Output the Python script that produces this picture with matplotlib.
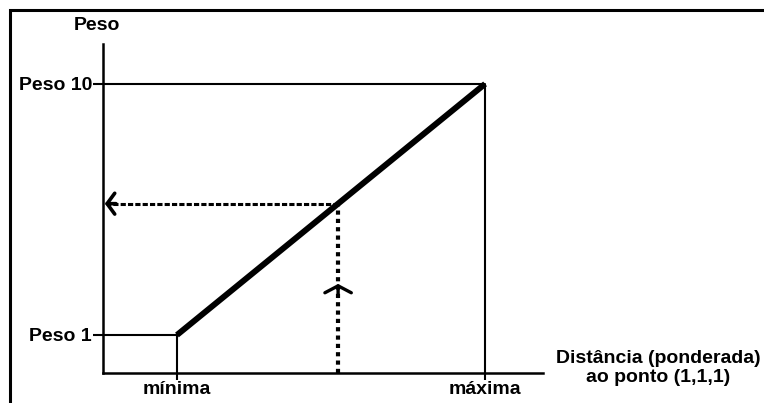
import matplotlib
matplotlib.use("Agg")
import matplotlib.pyplot as plt
from matplotlib.patches import Rectangle

plt.rcParams['font.family'] = ['Liberation Sans', 'DejaVu Sans']
plt.rcParams['font.weight'] = 'bold'

# data
x_labels = ["mínima", "máxima"]
x_pos = [0.0, 1.0]
y_labels = ["Peso 1", "Peso 10"]
y_pos = [1.0, 10.0]
line_x = [0.0, 1.0]
line_y = [1.0, 10.0]
query_x = 0.523
arrow_left_x = -0.228
arrow_up_y = 2.68

FS = 14

fig = plt.figure(figsize=(7.64, 4.03), dpi=100)
ax = fig.add_axes([103/764, 1-373/403, 440/764, 329/403])
ax.set_xlim(-0.240, 1.188)
ax.set_ylim(-0.362, 11.43)

for s in ['top', 'right']:
    ax.spines[s].set_visible(False)
for s in ['left', 'bottom']:
    ax.spines[s].set_linewidth(1.8)

ax.set_xticks(x_pos)
ax.set_xticklabels(x_labels, fontsize=FS, fontweight='bold')
ax.set_yticks(y_pos)
ax.set_yticklabels(y_labels, fontsize=FS, fontweight='bold')
ax.tick_params(axis='x', length=5, width=1.5, pad=1)
ax.tick_params(axis='y', length=7, width=1.5, pad=1)

# guide lines
ax.plot([ax.get_xlim()[0], x_pos[0], x_pos[0]], [y_pos[0], y_pos[0], ax.get_ylim()[0]],
        color='black', lw=1.5, solid_capstyle='butt', clip_on=False)
ax.plot([ax.get_xlim()[0], x_pos[1], x_pos[1]], [y_pos[1], y_pos[1], ax.get_ylim()[0]],
        color='black', lw=1.5, solid_capstyle='butt', clip_on=False)

# main thick line
ax.plot(line_x, line_y, color='black', lw=4.3, solid_capstyle='butt')

qy = line_y[0] + (line_y[1]-line_y[0]) * (query_x - line_x[0]) / (line_x[1]-line_x[0])

# dashed horizontal line to the left
ax.plot([query_x, arrow_left_x], [qy, qy], color='black', lw=2.2,
        linestyle=(0, (1.7, 0.7)), dash_capstyle='butt')
ax.annotate('', xy=(arrow_left_x - 0.006, qy), xytext=(arrow_left_x + 0.03, qy),
            arrowprops=dict(arrowstyle='->,head_length=0.55,head_width=0.75', lw=2.6, color='black',
                            shrinkA=0, shrinkB=0))

# dotted vertical line
ax.plot([query_x, query_x], [ax.get_ylim()[0], qy], color='black', lw=3,
        linestyle=(0, (1, 1)), dash_capstyle='butt')
ax.annotate('', xy=(query_x, arrow_up_y + 0.15), xytext=(query_x, arrow_up_y - 0.3),
            arrowprops=dict(arrowstyle='->,head_length=0.5,head_width=0.95', lw=2.4, color='black',
                            shrinkA=0, shrinkB=0))

# labels
fig.text(97/764, 1-25/403, "Peso", ha='center', va='center', fontsize=FS, fontweight='bold')
fig.text(658/764, 1-368/403, "Distância (ponderada)\nao ponto (1,1,1)", ha='center', va='center',
         fontsize=FS, fontweight='bold', linespacing=1.1)

# outer frame
fig.add_artist(Rectangle((10/764, -0.2), 1.0, 1.2 - 10/403, transform=fig.transFigure,
                         fill=False, lw=2.2, edgecolor='black'))

fig.savefig("out.png", dpi=100)
